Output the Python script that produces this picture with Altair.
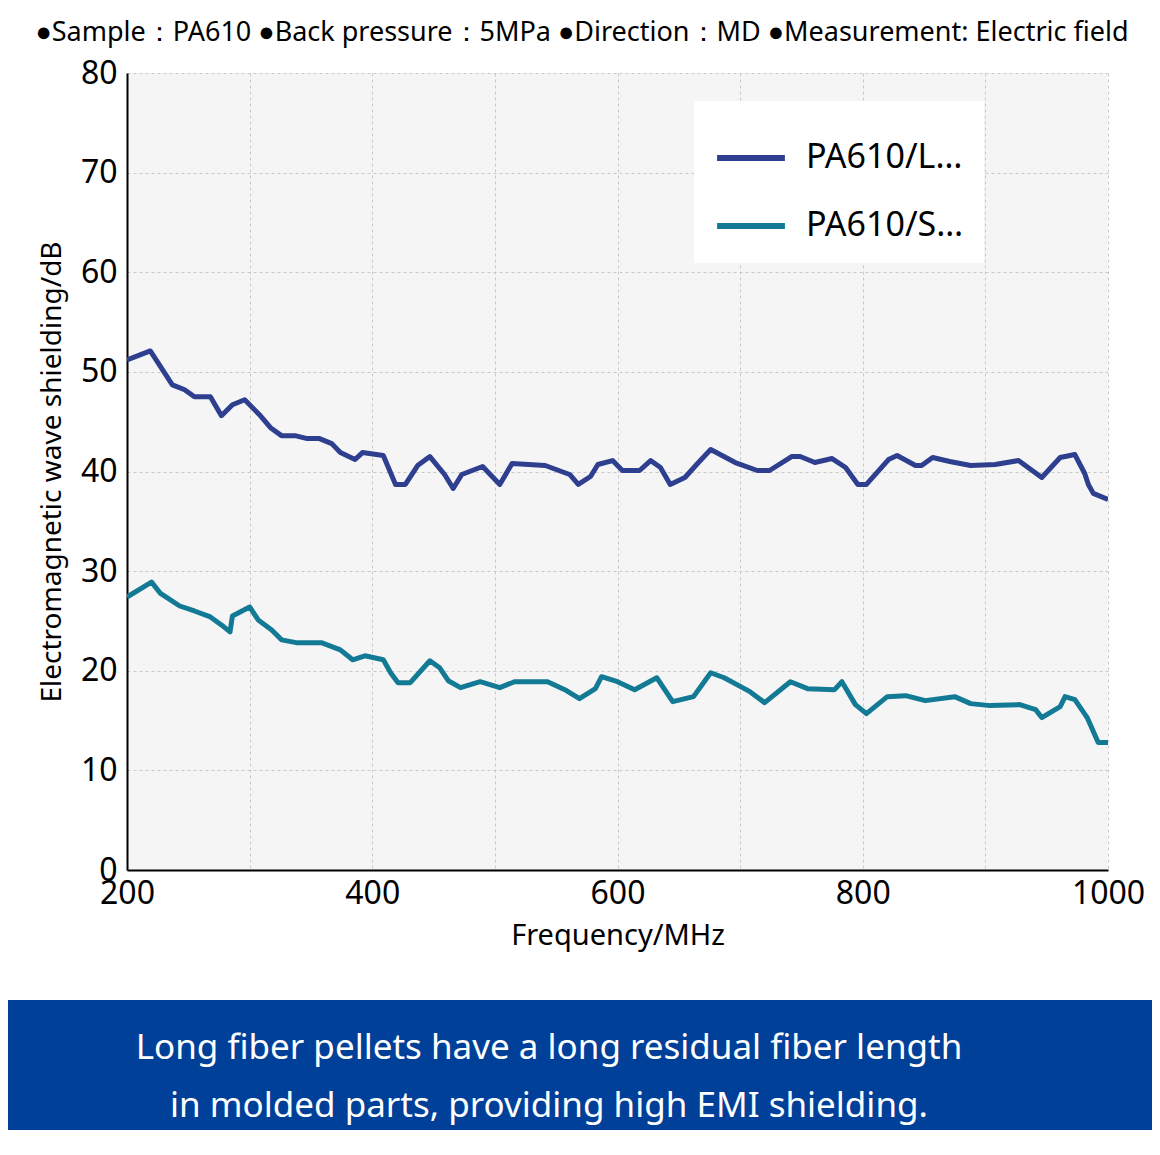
import altair as alt
import pandas as pd

lcf_x = [200,219,237,247,255,268,277,286,296,308,317,326,337,347,357,367,374,386,392,409,419,427,437,447,459,466,473,490,504,514,541,561,568,578,584,596,604,618,627,635,643,655,666,676,696,714,724,742,749,761,775,786,796,803,821,828,843,848,857,871,888,908,927,946,961,973,981,984,988,1000]
lcf_y = [51.2,52.1,48.7,48.2,47.5,47.5,45.6,46.7,47.2,45.7,44.4,43.6,43.6,43.3,43.3,42.8,41.9,41.2,41.9,41.6,38.7,38.7,40.6,41.5,39.7,38.3,39.7,40.5,38.7,40.8,40.6,39.7,38.7,39.5,40.7,41.1,40.1,40.1,41.1,40.4,38.7,39.4,40.9,42.2,40.9,40.1,40.1,41.5,41.5,40.9,41.3,40.4,38.7,38.7,41.2,41.6,40.6,40.6,41.4,41.0,40.6,40.7,41.1,39.4,41.4,41.7,39.8,38.7,37.8,37.2]
scf_x = [200,220,227,243,255,268,277,284,286,300,307,318,326,339,359,374,384,394,409,415,421,431,447,455,462,472,488,504,516,543,557,569,582,587,600,614,632,645,662,676,687,708,720,741,755,777,783,794,803,820,835,851,875,888,904,928,941,946,961,965,973,983,992,1000]
scf_y = [27.4,28.9,27.8,26.5,26.0,25.4,24.6,23.9,25.5,26.4,25.1,24.1,23.1,22.8,22.8,22.1,21.1,21.5,21.1,19.8,18.8,18.8,21.0,20.3,19.0,18.3,18.9,18.3,18.9,18.9,18.1,17.2,18.2,19.4,18.9,18.1,19.3,16.9,17.4,19.8,19.3,17.9,16.8,18.9,18.2,18.1,18.9,16.6,15.7,17.4,17.5,17.0,17.4,16.7,16.5,16.6,16.1,15.3,16.4,17.4,17.1,15.3,12.8,12.8]
series = ["PA610/LCF30", "PA610/SCF30"]
colors = ["#2f3f8f", "#137a95"]
header = "●Sample：PA610  ●Back pressure：5MPa  ●Direction：MD  ●Measurement: Electric field"
banner = ["Long fiber pellets have a long residual fiber length", "in molded parts, providing high EMI shielding."]

df = pd.concat([
    pd.DataFrame({"f": lcf_x, "v": lcf_y, "s": series[0], "o": range(len(lcf_x))}),
    pd.DataFrame({"f": scf_x, "v": scf_y, "s": series[1], "o": range(len(scf_x))}),
])
FONT = "Noto Sans"

lines = alt.Chart(df).mark_line(strokeWidth=5, strokeJoin="round", clip=True).encode(
    x=alt.X("f:Q", scale=alt.Scale(domain=[200, 1000], nice=False),
            axis=alt.Axis(title="Frequency/MHz", values=list(range(200, 1001, 100)),
                          labelExpr="datum.value % 200 == 0 ? datum.label : ''",
                          format="d", labelFontSize=32, titleFontSize=29, titlePadding=12,
                          labelPadding=8, ticks=False, domainColor="black", domainWidth=2,
                          gridDash=[3, 3], gridColor="#c8c8c8", labelColor="black",
                          titleColor="black", titleFontWeight="normal", labelFlush=False)),
    y=alt.Y("v:Q", scale=alt.Scale(domain=[0, 80], nice=False),
            axis=alt.Axis(title="Electromagnetic wave shielding/dB", values=list(range(0, 81, 10)),
                          labelFontSize=32, titleFontSize=28, titlePadding=14, labelPadding=10,
                          ticks=False, domainColor="black", domainWidth=2, gridDash=[3, 3],
                          gridColor="#c8c8c8", labelColor="black", titleColor="black",
                          titleFontWeight="normal")),
    color=alt.Color("s:N", scale=alt.Scale(domain=series, range=colors),
                    legend=alt.Legend(title=None, orient="none", legendX=567, legendY=28,
                                      fillColor="white", padding=20, labelFontSize=34,
                                      symbolType="stroke", symbolStrokeWidth=6, symbolSize=4600,
                                      rowPadding=14, labelOffset=18, labelColor="black")),
    order="o:Q",
)

hdr = alt.Chart(pd.DataFrame({"t": [header]})).mark_text(
    fontSize=27, font=FONT, align="center", baseline="middle", color="black"
).encode(text="t:N", x=alt.value(455), y=alt.value(-40))

bg = alt.Chart(pd.DataFrame({"a": [0]})).mark_rect(color="#004098").encode(
    x=alt.value(-127), x2=alt.value(1040), y=alt.value(927), y2=alt.value(1090))

btxt = alt.Chart(pd.DataFrame({"t": banner, "yy": [975, 1033]})).mark_text(
    fontSize=35, font=FONT, align="center", baseline="middle", color="white"
).encode(text="t:N", x=alt.value(422), y=alt.Y("yy:Q", scale=None))

chart = alt.layer(bg, btxt, hdr, lines).properties(
    width=981, height=797,
    autosize=alt.AutoSizeParams(type="none"),
    padding={"left": 119, "top": 65, "right": 44, "bottom": 260},
).configure(font=FONT).configure_view(fill="#f5f5f5", stroke=None)

chart.save("out.html", embed_options={"renderer": "svg", "actions": False})
